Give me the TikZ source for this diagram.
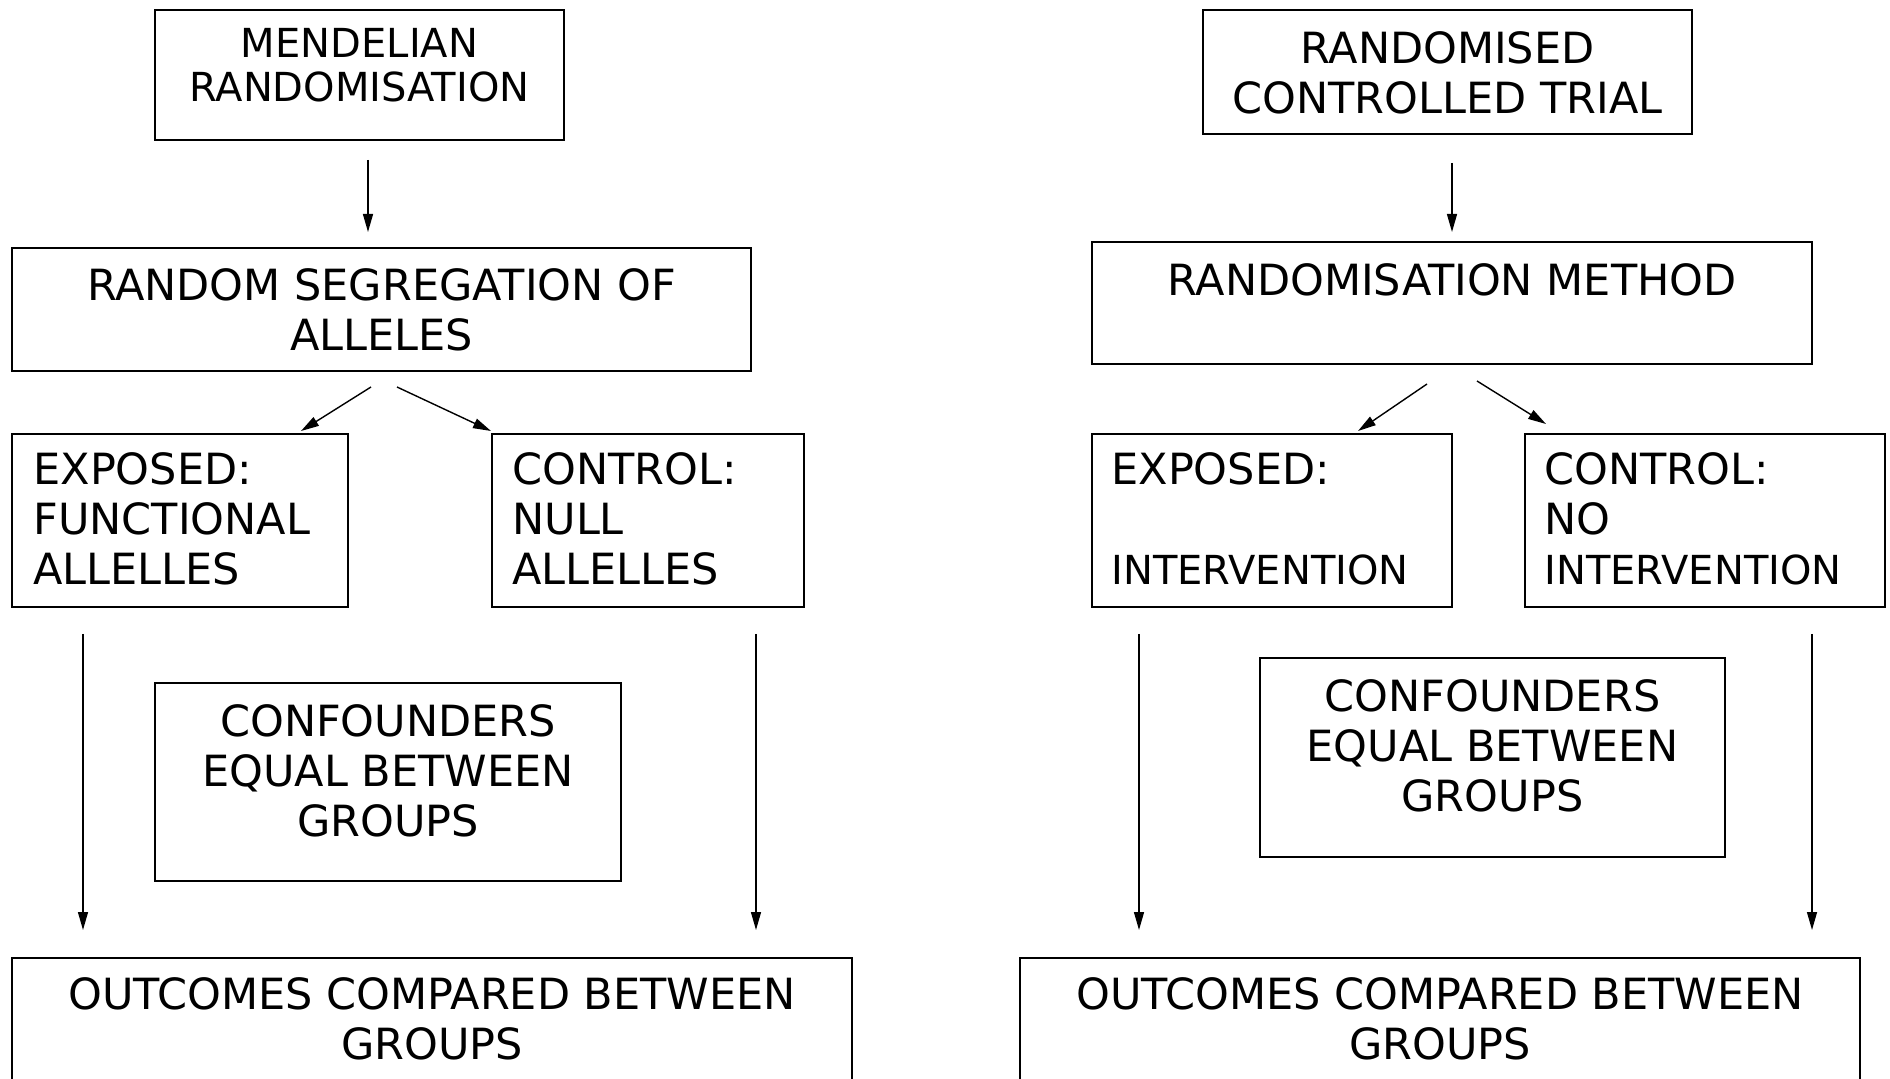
\documentclass[tikz,border=0pt]{standalone}
\usepackage{fontspec}
\setmainfont{DejaVu Sans}
\usetikzlibrary{arrows.meta,calc}

\begin{document}
\begin{tikzpicture}[x=0.5pt,y={(0pt,-0.5pt)},>={Triangle[length=9pt,width=5pt]},
			box/.style 2 args={draw,line width=1pt,minimum width=#1,minimum height=#2,inner sep=0pt},
			txt/.style={inner sep=0pt,align=center,font=\fontsize{21.5}{25}\selectfont},
			ltxt/.style={txt,align=left,anchor=north west},
			small/.style={font=\fontsize{20}{22}\selectfont},
			arr/.style={->,line width=0.7pt}]

		\useasboundingbox (0,0) rectangle (1890,1079);

		% left: mendelian randomisation
		\node [box={204.5pt}{65pt}] (mr) at (359.5,75) {};
		\node [box={369.5pt}{61.5pt}] (rs) at (381.5,309.5) {};
		\node [box={168pt}{86.5pt}] (exl) at (180,520.5) {};
		\node [box={156pt}{86.5pt}] (ctl) at (648,520.5) {};
		\node [box={233pt}{99pt}] (cfl) at (388,782) {};
		\node [box={420pt}{66pt}] (ocl) at (432,1024) {};

		\node [txt,small,anchor=north] (mrT) at (359.5,28) {MENDELIAN\\RANDOMISATION};
		\node [txt,anchor=north] (rsT) at (381.5,268) {RANDOM SEGREGATION OF\\ALLELES};
		\node [ltxt] (exlT) at (33,452) {EXPOSED:\\FUNCTIONAL\\ALLELLES};
		\node [ltxt] (ctlT) at (512,452) {CONTROL:\\NULL\\ALLELLES};
		\node [txt,anchor=north] (cflT) at (388,704) {CONFOUNDERS\\EQUAL BETWEEN\\GROUPS};
		\node [txt,anchor=north] (oclT) at (432,977) {OUTCOMES COMPARED BETWEEN\\GROUPS};

		\draw [arr] ($(mr.south)+(8.5,19)$) -- ($(rs.north)+(-13.5,-15)$);
		\draw [arr] ($(rs.south)+(-10.5,15)$) -- ($(exl.north)+(121,-2)$);
		\draw [arr] ($(rs.south)+(15.5,15)$) -- ($(ctl.north west)+(0,-2)$);
		\draw [arr] ($(exl.south)+(-97,26)$) -- ($(ocl.north)+(-349,-27)$);
		\draw [arr] ($(ctl.south)+(108,26)$) -- ($(ocl.north)+(324,-27)$);

		% right: randomised controlled trial
		\node [box={244.5pt}{62pt}] (rct) at (1447.5,72) {};
		\node [box={360pt}{61pt}] (rm) at (1452,303) {};
		\node [box={180pt}{86.5pt}] (exr) at (1272,520.5) {};
		\node [box={180pt}{86.5pt}] (ctr) at (1705,520.5) {};
		\node [box={232.5pt}{99.5pt}] (cfr) at (1492.5,757.5) {};
		\node [box={420pt}{66pt}] (ocr) at (1440,1024) {};

		\node [txt,anchor=north] (rctT) at (1447.5,31) {RANDOMISED\\CONTROLLED TRIAL};
		\node [txt,anchor=north] (rmT) at (1452,263) {RANDOMISATION METHOD};
		\node [ltxt] (exrT) at (1111,452) {EXPOSED:\\[25pt]{\fontsize{20}{25}\selectfont INTERVENTION}};
		\node [ltxt] (ctrT) at (1544,452) {CONTROL:\\NO\\{\fontsize{20}{25}\selectfont INTERVENTION}};
		\node [txt,anchor=north] (cfrT) at (1492.5,679) {CONFOUNDERS\\EQUAL BETWEEN\\GROUPS};
		\node [txt,anchor=north] (ocrT) at (1440,977) {OUTCOMES COMPARED BETWEEN\\GROUPS};

		\draw [arr] ($(rct.south)+(4.5,28)$) -- ($(rm.north)+(0,-9)$);
		\draw [arr] ($(rm.south)+(-25,19)$) -- ($(exr.north)+(86,-2)$);
		\draw [arr] ($(rm.south)+(25,16)$) -- ($(ctr.north west)+(22,-9)$);
		\draw [arr] ($(exr.south)+(-133,26)$) -- ($(ocr.north)+(-301,-27)$);
		\draw [arr] ($(ctr.south)+(107,26)$) -- ($(ocr.north)+(372,-27)$);

		\end{tikzpicture}
\end{document}
